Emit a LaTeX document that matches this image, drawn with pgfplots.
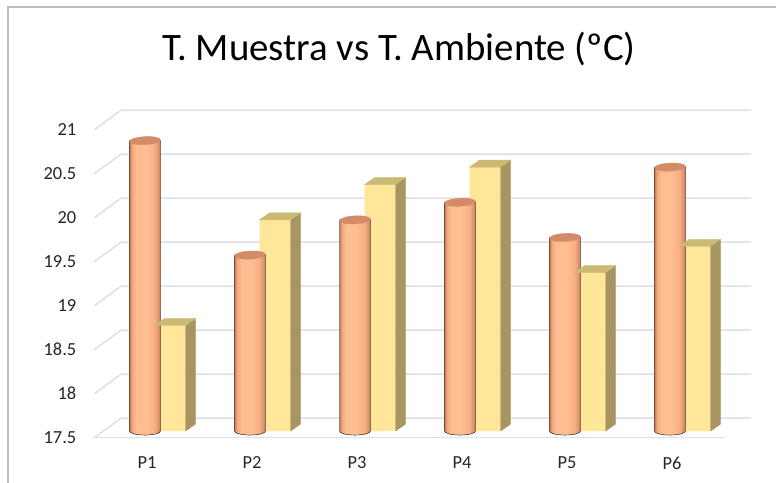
\documentclass[border=0pt]{standalone}
\usepackage{pgfplots}
\pgfplotsset{compat=1.18}
\usepackage{fontspec}
\setmainfont{Carlito}
\definecolor{gridc}{RGB}{220,224,232}
\definecolor{oEdgeL}{RGB}{196,124,88}
\definecolor{oNear}{RGB}{240,168,125}
\definecolor{oLight}{RGB}{255,190,146}
\definecolor{oMid}{RGB}{245,174,130}
\definecolor{oEdgeR}{RGB}{200,128,92}
\definecolor{oTop}{RGB}{212,140,104}
\definecolor{yFront}{RGB}{255,230,153}
\definecolor{ySide}{RGB}{168,150,98}
\definecolor{yTop}{RGB}{202,186,116}
\definecolor{txt}{RGB}{38,38,38}
\definecolor{framec}{RGB}{190,190,190}
\pgfdeclarehorizontalshading{cyl}{100bp}{color(0bp)=(oEdgeL); color(25bp)=(oEdgeL); color(29bp)=(oNear); color(36bp)=(oLight); color(52bp)=(oLight); color(66bp)=(oMid); color(75bp)=(oEdgeR); color(100bp)=(oEdgeR)}
\pgfdeclareplotmark{blank}{}
\begin{document}
\begin{tikzpicture}[x=1bp,y=1bp]
\useasboundingbox (0,0) rectangle (776,483);
\fill[white] (0,0) rectangle (776,483);
\draw[framec, line width=1.3bp] (8,-2) -- (8,476) -- (778,476);
\node[anchor=base, font=\fontsize{39}{46}\selectfont, text=black, inner sep=0pt] at (399,422) {T. Muestra vs T. Ambiente (ºC)};
% front plane: tick labels, floor edge, side-wall and back-wall grid lines
\begin{axis}[
  at={(90,51.5)}, anchor=south west, scale only axis, width=630bp, height=308bp,
  xmin=0.5, xmax=6.5, ymin=17.5, ymax=21, clip=false,
  axis x line*=bottom, axis y line*=left,
  x axis line style={gridc, line width=1.5bp, -},
  y axis line style={draw=none},
  major tick length=0pt, tick style={draw=none},
  xtick={1,2,3,4,5,6}, xticklabels={P1,P2,P3,P4,P5,P6},
  ytick={17.5,18,18.5,19,19.5,20,20.5,21},
  /pgf/number format/assume math mode=true,
  ticklabel style={font=\fontsize{18.5}{22}\selectfont, text=txt, inner sep=0pt},
  yticklabel style={anchor=east, xshift=-18bp},
  xticklabel style={anchor=north, yshift=-19bp},
]
\pgfplotsinvokeforeach{17.5,18,18.5,19,19.5,20,20.5,21}{
  \draw[gridc, line width=1.5bp] (axis cs:0.5,#1) -- ++(26.5bp,19.5bp) -- ++(630bp,0bp);
}
\end{axis}
% bar plane
\begin{axis}[
  at={(100,59)}, anchor=south west, scale only axis, width=630bp, height=308bp,
  xmin=0.5, xmax=6.5, ymin=17.5, ymax=21, hide axis,
]
% T. Muestra (cylinders)
\addplot[scatter, only marks, mark=blank, point meta=y,
  visualization depends on={rawy \as \val},
  scatter/@pre marker code/.code={%
    \pgfmathsetlengthmacro\hh{(\val-17.5)*88bp}%
    \shade[shading=cyl]
      (-28bp,0bp) -- (-28bp,-\hh) arc[start angle=180, end angle=360, x radius=15.5bp, y radius=4bp] -- (3bp,0bp) -- cycle;
    \fill[oTop] (-12.5bp,0bp) ellipse [x radius=15.5bp, y radius=4bp, rotate=3];
  },
  scatter/@post marker code/.code={}]
  coordinates {(1,20.8) (2,19.5) (3,19.9) (4,20.1) (5,19.7) (6,20.5)};
% T. Ambiente (boxes)
\addplot[ybar, bar width=31bp, bar shift=12.5bp, draw=none, fill=yFront]
  coordinates {(1,18.7) (2,19.9) (3,20.3) (4,20.5) (5,19.3) (6,19.6)};
\addplot[scatter, only marks, mark=blank, point meta=y,
  visualization depends on={rawy \as \val},
  scatter/@pre marker code/.code={%
    \pgfmathsetlengthmacro\hh{(\val-17.5)*88bp}%
    \fill[ySide] (28bp,0bp) -- (38bp,7bp) -- ++(0bp,-\hh) -- (28bp,-\hh) -- cycle;
    \fill[yTop] (-3bp,0bp) -- (28bp,0bp) -- (38bp,7bp) -- (7bp,7bp) -- cycle;
  },
  scatter/@post marker code/.code={}]
  coordinates {(1,18.7) (2,19.9) (3,20.3) (4,20.5) (5,19.3) (6,19.6)};
\end{axis}
\end{tikzpicture}
\end{document}
